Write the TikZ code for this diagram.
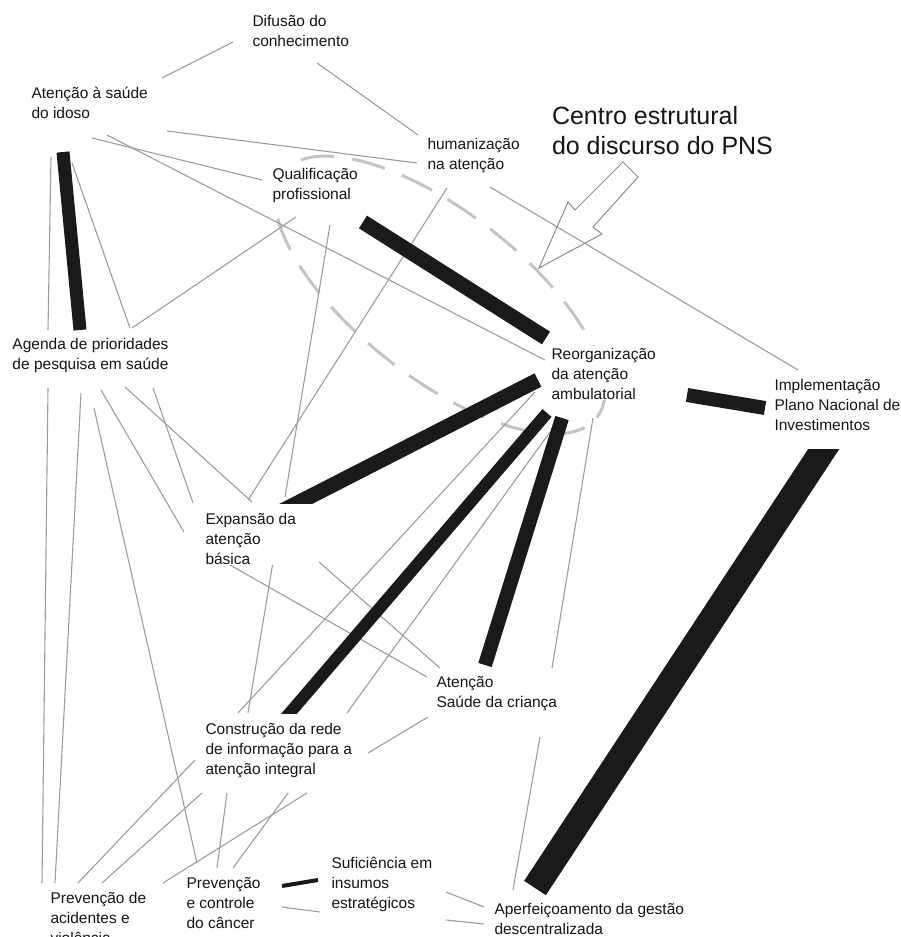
\documentclass[tikz,border=0pt]{standalone}
\usepackage{fontspec}
\setmainfont{Liberation Sans}
\usetikzlibrary{backgrounds}
\definecolor{thinc}{HTML}{9C9C9C}
\definecolor{heavyc}{HTML}{1A1A1A}
\definecolor{dashc}{HTML}{C4C4C4}
\definecolor{arrowc}{HTML}{8C8C8C}
\definecolor{txtc}{HTML}{151515}
\begin{document}
\begin{tikzpicture}[x=1pt,y=-1pt,
  lbl/.style={anchor=north west, inner sep=0pt, outer sep=0pt, fill=white, align=left,
              font=\fontsize{15.5}{20}\selectfont, text=txtc},
  bigtxt/.style={anchor=north west, inner sep=0pt, outer sep=0pt, align=left,
              font=\fontsize{25}{30}\selectfont, text=txtc},
  tline/.style={draw=thinc, line width=1.1pt},
  heavy/.style={draw=heavyc, line width=#1}]
\useasboundingbox (0,0) rectangle (900,937);

% labels
\node[lbl] (dif) at (252.5,12.9) {\strut Difusão do\\conhecimento};
\node[lbl] (idoso) at (31.5,84.9) {\strut Atenção à saúde\\do idoso};
\node[lbl] (hum) at (427.5,135.9) {\strut humanização\\na atenção};
\node[lbl] (qual) at (272.5,165.9) {\strut Qualificação\\profissional};
\node[bigtxt] (centro) at (552,103.9) {\strut Centro estrutural\\do discurso do PNS};
\node[lbl] (agenda) at (12.5,335.9) {\strut Agenda de prioridades\\de pesquisa em saúde};
\node[lbl] (reorg) at (551.5,345.9) {\strut Reorganização\\da atenção\\ambulatorial};
\node[lbl] (impl) at (774.5,376.9) {\strut Implementação\\Plano Nacional de\\Investimentos};
\node[lbl] (exp) at (205.5,510.9) {\strut Expansão da\\atenção\\básica};
\node[lbl] (crianca) at (436.5,673.9) {\strut Atenção\\Saúde da criança};
\node[lbl] (constr) at (205.5,720.9) {\strut Construção da rede\\de informação para a\\atenção integral};
\node[lbl] (acid) at (50.5,889.9) {\strut Prevenção de\\acidentes e\\violência};
\node[lbl] (cancer) at (186.5,874.9) {\strut Prevenção\\e controle\\do câncer};
\node[lbl] (sufic) at (331.5,854.9) {\strut Suficiência em\\insumos\\estratégicos};
\node[lbl] (aperf) at (494.5,900.9) {\strut Aperfeiçoamento da gestão\\descentralizada};

% arrow pointing at the structural centre
\draw[arrowc, line width=1pt, line join=miter] (623,162) -- (638,177) -- (593,227) -- (602,234)
  -- (539,268) -- (568,202) -- (575,210) -- cycle;

\begin{pgfonlayer}{background}
% dashed ellipse
\draw[dashc, line width=3pt, dash pattern=on 34pt off 18pt, dash phase=10pt, rotate around={-38:(440,295)}]
  (440,295) ellipse [x radius=199pt, y radius=83pt];

% thin connectors
\draw[tline] ([shift={(130.5,-6.9)}]idoso.north west) -- ([shift={(-19.5,29.1)}]dif.north west);
\draw[tline] ([shift={(64.5,50.1)}]dif.north west) -- ([shift={(-9.5,-0.9)}]hum.north west);
\draw[tline] ([shift={(135.5,46.1)}]idoso.north west) -- ([shift={(-10.5,27.1)}]hum.north west);
\draw[tline] ([shift={(60.5,53.1)}]idoso.north west) -- ([shift={(-10.5,14.1)}]qual.north west);
\draw[tline] ([shift={(75.5,50.1)}]idoso.north west) -- ([shift={(-6.5,14.1)}]reorg.north west);
\draw[tline] ([shift={(23.5,51.1)}]qual.north west) -- ([shift={(119.5,-7.9)}]agenda.north west);
\draw[tline] ([shift={(57.5,59.1)}]qual.north west) -- ([shift={(79.5,-13.9)}]exp.north west);
\draw[tline] ([shift={(19.5,52.1)}]hum.north west) -- ([shift={(42.5,-10.9)}]exp.north west);
\draw[tline] ([shift={(62.5,51.1)}]hum.north west) -- ([shift={(23.5,-6.9)}]impl.north west);
\draw[tline] ([shift={(40.5,78.1)}]idoso.north west) -- ([shift={(117.5,-7.9)}]agenda.north west);
\draw[tline] ([shift={(19.5,72.1)}]idoso.north west) -- ([shift={(35.5,-5.9)}]agenda.north west);
\draw[tline] ([shift={(140.5,52.1)}]agenda.north west) -- ([shift={(-12.5,-7.9)}]exp.north west);
\draw[tline] ([shift={(35.5,52.1)}]agenda.north west) -- ([shift={(-8.5,-6.9)}]acid.north west);
\draw[tline] ([shift={(68.5,57.1)}]agenda.north west) -- ([shift={(4.5,-6.9)}]acid.north west);
\draw[tline] ([shift={(81.5,72.1)}]agenda.north west) -- ([shift={(10.5,-11.9)}]cancer.north west);
\draw[tline] ([shift={(88.5,54.1)}]agenda.north west) -- ([shift={(-21.5,21.1)}]exp.north west);
\draw[tline] ([shift={(112.5,51.1)}]agenda.north west) -- ([shift={(46.5,-8.9)}]exp.north west);
\draw[tline] ([shift={(-16.5,46.1)}]reorg.north west) -- ([shift={(32.5,-7.9)}]constr.north west);
\draw[tline] ([shift={(-1.5,86.1)}]reorg.north west) -- ([shift={(141.5,-7.9)}]constr.north west);
\draw[tline] ([shift={(0.5,82.1)}]reorg.north west) -- ([shift={(45.5,-13.9)}]crianca.north west);
\draw[tline] ([shift={(41.5,72.1)}]reorg.north west) -- ([shift={(115.5,-5.9)}]crianca.north west);
\draw[tline] ([shift={(103.5,63.1)}]crianca.north west) -- ([shift={(18.5,-10.9)}]aperf.north west);
\draw[tline] ([shift={(24.5,54.1)}]exp.north west) -- ([shift={(-9.5,3.1)}]crianca.north west);
\draw[tline] ([shift={(113.5,51.1)}]exp.north west) -- ([shift={(3.5,-5.9)}]crianca.north west);
\draw[tline] ([shift={(67.5,51.1)}]exp.north west) -- ([shift={(42.5,-7.9)}]constr.north west);
\draw[tline] ([shift={(162.5,32.1)}]constr.north west) -- ([shift={(-8.5,43.1)}]crianca.north west);
\draw[tline] ([shift={(-10.5,39.1)}]constr.north west) -- ([shift={(27.5,-6.9)}]acid.north west);
\draw[tline] ([shift={(-3.5,72.1)}]constr.north west) -- ([shift={(51.5,-6.9)}]acid.north west);
\draw[tline] ([shift={(21.5,72.1)}]constr.north west) -- ([shift={(30.5,-6.9)}]cancer.north west);
\draw[tline] ([shift={(82.5,72.1)}]constr.north west) -- ([shift={(46.5,-6.9)}]cancer.north west);
\draw[tline] ([shift={(101.5,72.1)}]constr.north west) -- ([shift={(112.5,-6.9)}]acid.north west);
\draw[tline] ([shift={(95.5,32.1)}]cancer.north west) -- ([shift={(-11.5,57.1)}]sufic.north west);
\draw[tline] ([shift={(114.5,37.1)}]sufic.north west) -- ([shift={(-10.5,6.1)}]aperf.north west);
\draw[tline] ([shift={(114.5,65.1)}]sufic.north west) -- ([shift={(-10.5,23.1)}]aperf.north west);

% heavy connectors
\draw[heavy=13pt] ([shift={(31.5,67.1)}]idoso.north west) -- ([shift={(67.5,-5.9)}]agenda.north west);
\draw[heavy=15pt] ([shift={(90.5,56.1)}]qual.north west) -- ([shift={(-5.5,-7.9)}]reorg.north west);
\begin{scope}
  \clip (0,0) rectangle (900,503);
  \draw[heavy=15pt] ([shift={(72.5,2.1)}]exp.north west) -- ([shift={(-13.5,34.1)}]reorg.north west);
\end{scope}
\begin{scope}
  \clip (0,0) rectangle (900,713);
  \draw[heavy=12pt] ([shift={(76.5,1.1)}]constr.north west) -- ([shift={(-4.5,67.1)}]reorg.north west);
\end{scope}
\draw[heavy=14pt] ([shift={(48.5,-8.9)}]crianca.north west) -- ([shift={(10.5,72.1)}]reorg.north west);
\draw[heavy=14pt] ([shift={(135.5,49.1)}]reorg.north west) -- ([shift={(-9.5,31.1)}]impl.north west);
\begin{scope}
  \clip (0,449) rectangle (900,937);
  \draw[heavy=26pt] ([shift={(54.5,64.1)}]impl.north west) -- ([shift={(40.5,-12.9)}]aperf.north west);
\end{scope}
\draw[heavy=4pt] ([shift={(95.5,11.1)}]cancer.north west) -- ([shift={(-13.5,25.1)}]sufic.north west);
\end{pgfonlayer}
\end{tikzpicture}
\end{document}
